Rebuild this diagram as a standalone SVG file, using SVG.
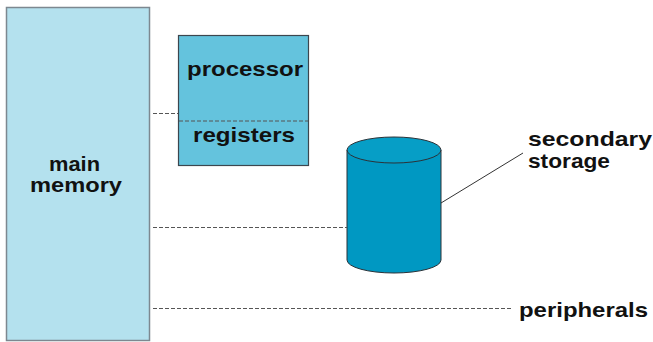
<svg xmlns="http://www.w3.org/2000/svg" width="653" height="342" viewBox="0 0 653 342">
  <style>
    .lbl { font-family: "Liberation Sans", Arial, sans-serif; font-weight: bold; font-size: 21px; fill: #111111; }
    .dash { stroke: #555; stroke-width: 1; stroke-dasharray: 4 2; fill: none; }
    .solid { stroke: #333; stroke-width: 1; fill: none; }
  </style>
  <rect width="653" height="342" fill="#ffffff"/>

  <g id="main-memory">
    <rect x="6.5" y="7.5" width="143" height="333" fill="#b4e1ee" stroke="#7d8890" stroke-width="1.5"/>
    <text class="lbl" x="49" y="171" textLength="51" lengthAdjust="spacingAndGlyphs">main</text>
    <text class="lbl" x="30" y="192" textLength="92" lengthAdjust="spacingAndGlyphs">memory</text>
  </g>

  <g id="processor">
    <rect x="178.5" y="35.5" width="130" height="130" fill="#64c3dd" stroke="#3c464e" stroke-width="1.2"/>
    <line x1="179" y1="121" x2="308" y2="121" class="dash"/>
    <text class="lbl" x="187" y="76" textLength="116" lengthAdjust="spacingAndGlyphs">processor</text>
    <text class="lbl" x="193" y="142" textLength="102" lengthAdjust="spacingAndGlyphs">registers</text>
  </g>

  <g id="secondary-storage">
    <path d="M347 150 V260 A47 13 0 0 0 441 260 V150" fill="#0098c2" stroke="#2b3238" stroke-width="1"/>
    <ellipse cx="394" cy="150" rx="47" ry="13" fill="#069ec6" stroke="#2b3238" stroke-width="1"/>
    <text class="lbl" x="528" y="146" textLength="124" lengthAdjust="spacingAndGlyphs">secondary</text>
    <text class="lbl" x="528" y="168" textLength="82" lengthAdjust="spacingAndGlyphs">storage</text>
  </g>

  <g id="peripherals">
    <text class="lbl" x="519" y="317" textLength="129" lengthAdjust="spacingAndGlyphs">peripherals</text>
  </g>

  <g id="connectors">
    <line x1="153" y1="113.5" x2="178" y2="113.5" class="dash"/>
    <line x1="153" y1="227.5" x2="347" y2="227.5" class="dash"/>
    <line x1="153" y1="308.5" x2="512" y2="308.5" class="dash"/>
    <line x1="441" y1="203" x2="523" y2="153" class="solid"/>
  </g>
</svg>
